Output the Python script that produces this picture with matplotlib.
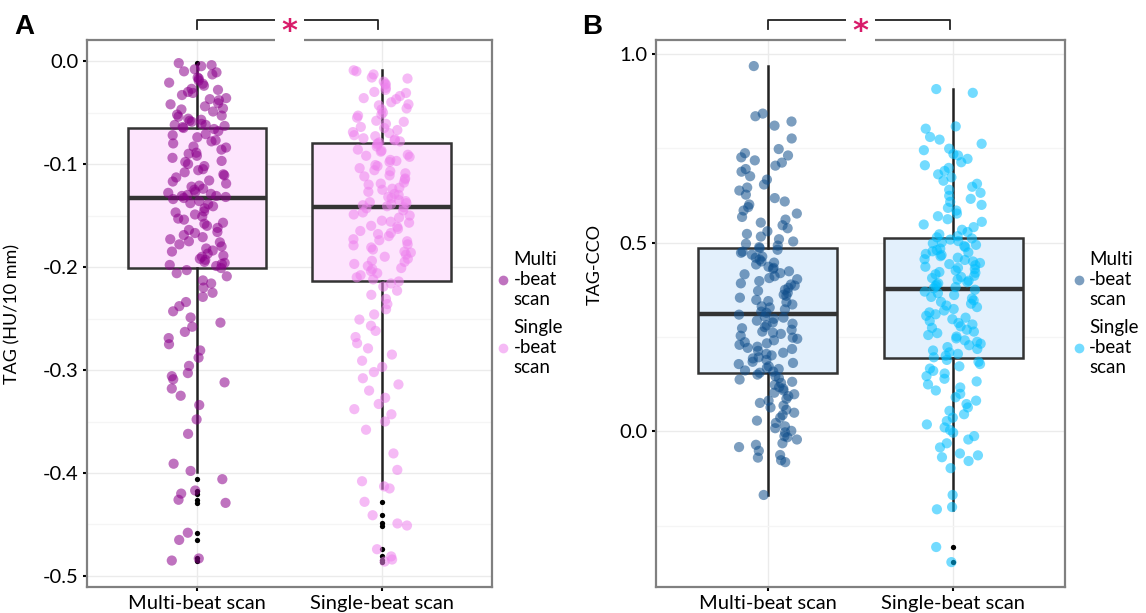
import matplotlib
matplotlib.use("Agg")
import matplotlib.pyplot as plt
import matplotlib.transforms as mtransforms
from matplotlib.patches import Rectangle
from matplotlib.lines import Line2D
import numpy as np

plt.rcParams['font.family'] = ['Lato', 'DejaVu Sans']
plt.rcParams['axes.unicode_minus'] = False

categories = ["Multi-beat scan", "Single-beat scan"]
legend_labels = ["Multi\n-beat\nscan", "Single\n-beat\nscan"]

# panel A: TAG (HU/10 mm), values
tag_multi = [
    -0.002, -0.004, -0.005, -0.008, -0.010, -0.011, -0.013, -0.016, -0.017, -0.019,
    -0.021, -0.022, -0.024, -0.027, -0.028, -0.030, -0.031, -0.033, -0.036, -0.037,
    -0.038, -0.041, -0.042, -0.044, -0.046, -0.047, -0.049, -0.052, -0.053, -0.054,
    -0.056, -0.057, -0.058, -0.059, -0.061, -0.062, -0.062, -0.063, -0.064, -0.065,
    -0.066, -0.068, -0.071, -0.072, -0.074, -0.077, -0.078, -0.080, -0.083, -0.084,
    -0.086, -0.089, -0.090, -0.092, -0.094, -0.097, -0.098, -0.100, -0.102, -0.105,
    -0.106, -0.108, -0.110, -0.111, -0.113, -0.116, -0.117, -0.119, -0.121, -0.122,
    -0.124, -0.125, -0.127, -0.128, -0.129, -0.130, -0.131, -0.131, -0.132, -0.133,
    -0.134, -0.136, -0.138, -0.139, -0.141, -0.143, -0.146, -0.147, -0.149, -0.151,
    -0.153, -0.154, -0.157, -0.158, -0.160, -0.162, -0.164, -0.166, -0.167, -0.169,
    -0.171, -0.173, -0.175, -0.176, -0.178, -0.180, -0.182, -0.184, -0.185, -0.187,
    -0.189, -0.190, -0.192, -0.193, -0.195, -0.196, -0.197, -0.198, -0.199, -0.201,
    -0.203, -0.206, -0.209, -0.213, -0.216, -0.220, -0.225, -0.229, -0.234, -0.238,
    -0.243, -0.249, -0.254, -0.258, -0.263, -0.269, -0.275, -0.281, -0.288, -0.296,
    -0.303, -0.306, -0.309, -0.312, -0.318, -0.325, -0.334, -0.348, -0.362, -0.391,
    -0.398, -0.406, -0.417, -0.420, -0.426, -0.429, -0.458, -0.465, -0.483, -0.485,
]
tag_single = [
    -0.009, -0.010, -0.013, -0.016, -0.017, -0.020, -0.022, -0.023, -0.026, -0.028,
    -0.030, -0.031, -0.034, -0.036, -0.037, -0.040, -0.042, -0.043, -0.046, -0.047,
    -0.050, -0.052, -0.053, -0.055, -0.058, -0.059, -0.061, -0.064, -0.065, -0.067,
    -0.069, -0.070, -0.072, -0.073, -0.075, -0.076, -0.077, -0.078, -0.079, -0.080,
    -0.081, -0.083, -0.086, -0.087, -0.088, -0.091, -0.092, -0.093, -0.096, -0.097,
    -0.098, -0.101, -0.102, -0.104, -0.106, -0.107, -0.109, -0.111, -0.112, -0.114,
    -0.115, -0.118, -0.119, -0.120, -0.123, -0.124, -0.125, -0.127, -0.129, -0.130,
    -0.132, -0.133, -0.135, -0.136, -0.137, -0.138, -0.139, -0.140, -0.141, -0.142,
    -0.143, -0.145, -0.147, -0.149, -0.150, -0.152, -0.155, -0.156, -0.157, -0.160,
    -0.161, -0.163, -0.165, -0.167, -0.168, -0.170, -0.173, -0.174, -0.175, -0.178,
    -0.179, -0.181, -0.183, -0.185, -0.186, -0.188, -0.190, -0.192, -0.194, -0.195,
    -0.197, -0.199, -0.201, -0.202, -0.204, -0.206, -0.208, -0.210, -0.212, -0.214,
    -0.216, -0.219, -0.223, -0.227, -0.231, -0.236, -0.241, -0.246, -0.251, -0.257,
    -0.262, -0.268, -0.274, -0.279, -0.285, -0.291, -0.297, -0.302, -0.308, -0.314,
    -0.320, -0.327, -0.333, -0.338, -0.343, -0.350, -0.358, -0.381, -0.397, -0.408,
    -0.413, -0.415, -0.428, -0.441, -0.449, -0.451, -0.474, -0.481, -0.484, -0.486,
]
# box statistics: q1, median, q3, lower whisker, upper whisker
tag_box = {
    "Multi-beat scan": (-0.201, -0.133, -0.065, -0.399, -0.004),
    "Single-beat scan": (-0.214, -0.142, -0.080, -0.415, -0.009),
}

# panel B: TAG-CCO
cco_multi = [
    0.968, 0.842, 0.835, 0.821, 0.810, 0.776, 0.748, 0.737, 0.731, 0.726,
    0.718, 0.712, 0.704, 0.695, 0.688, 0.676, 0.667, 0.654, 0.646, 0.638,
    0.627, 0.618, 0.609, 0.601, 0.594, 0.585, 0.577, 0.568, 0.561, 0.553,
    0.546, 0.538, 0.530, 0.523, 0.516, 0.509, 0.503, 0.497, 0.492, 0.488,
    0.485, 0.481, 0.476, 0.473, 0.468, 0.463, 0.460, 0.455, 0.450, 0.447,
    0.442, 0.436, 0.433, 0.430, 0.424, 0.419, 0.416, 0.411, 0.406, 0.403,
    0.398, 0.392, 0.389, 0.386, 0.380, 0.375, 0.372, 0.367, 0.362, 0.359,
    0.354, 0.348, 0.345, 0.342, 0.336, 0.331, 0.328, 0.323, 0.317, 0.314,
    0.309, 0.304, 0.301, 0.298, 0.293, 0.288, 0.285, 0.281, 0.276, 0.273,
    0.269, 0.264, 0.261, 0.258, 0.253, 0.248, 0.245, 0.241, 0.236, 0.233,
    0.229, 0.224, 0.221, 0.218, 0.213, 0.208, 0.205, 0.201, 0.196, 0.193,
    0.189, 0.184, 0.181, 0.178, 0.172, 0.168, 0.165, 0.161, 0.158, 0.155,
    0.150, 0.146, 0.141, 0.137, 0.131, 0.128, 0.123, 0.117, 0.113, 0.108,
    0.102, 0.098, 0.093, 0.086, 0.081, 0.075, 0.068, 0.063, 0.057, 0.049,
    0.043, 0.036, 0.028, 0.022, 0.013, 0.008, 0.001, -0.003, -0.013, -0.016,
    -0.022, -0.032, -0.036, -0.042, -0.052, -0.063, -0.070, -0.077, -0.082, -0.169,
]
cco_single = [
    0.907, 0.897, 0.808, 0.802, 0.780, 0.773, 0.762, 0.749, 0.745, 0.735,
    0.731, 0.722, 0.713, 0.705, 0.698, 0.690, 0.681, 0.673, 0.664, 0.656,
    0.648, 0.640, 0.632, 0.624, 0.616, 0.608, 0.600, 0.592, 0.585, 0.577,
    0.570, 0.562, 0.555, 0.548, 0.541, 0.534, 0.528, 0.522, 0.517, 0.514,
    0.511, 0.508, 0.504, 0.501, 0.498, 0.494, 0.491, 0.488, 0.484, 0.480,
    0.477, 0.474, 0.470, 0.467, 0.464, 0.460, 0.456, 0.454, 0.450, 0.446,
    0.443, 0.440, 0.436, 0.433, 0.430, 0.426, 0.422, 0.420, 0.416, 0.412,
    0.409, 0.406, 0.402, 0.399, 0.395, 0.392, 0.389, 0.385, 0.382, 0.379,
    0.375, 0.370, 0.366, 0.361, 0.356, 0.352, 0.347, 0.343, 0.338, 0.333,
    0.329, 0.324, 0.320, 0.315, 0.310, 0.306, 0.301, 0.297, 0.292, 0.287,
    0.283, 0.278, 0.274, 0.269, 0.264, 0.260, 0.255, 0.251, 0.246, 0.241,
    0.237, 0.232, 0.228, 0.223, 0.218, 0.214, 0.209, 0.205, 0.200, 0.196,
    0.189, 0.184, 0.178, 0.172, 0.166, 0.160, 0.153, 0.146, 0.139, 0.132,
    0.124, 0.116, 0.108, 0.099, 0.090, 0.081, 0.072, 0.063, 0.054, 0.045,
    0.036, 0.027, 0.018, 0.010, 0.003, -0.004, -0.013, -0.022, -0.032, -0.043,
    -0.059, -0.064, -0.069, -0.079, -0.098, -0.169, -0.201, -0.207, -0.307, -0.347,
]
cco_box = {
    "Multi-beat scan": (0.153, 0.312, 0.487, -0.169, 0.968),
    "Single-beat scan": (0.193, 0.378, 0.513, -0.209, 0.907),
}

tag_ticks = [0.0, -0.1, -0.2, -0.3, -0.4, -0.5]
tag_tick_labels = ["0.0", "-0.1", "-0.2", "-0.3", "-0.4", "-0.5"]
tag_minor = [-0.05, -0.15, -0.25, -0.35, -0.45]
cco_ticks = [1.0, 0.5, 0.0]
cco_tick_labels = ["1.0", "0.5", "0.0"]
cco_minor = [0.75, 0.25, -0.25]


def jitter(n, width, seed):
    # scrambled but repeatable horizontal offsets, like geom_jitter
    h = (np.sin(np.arange(n) * 12.9898 + seed * 78.233) * 43758.5453) % 1.0
    return (h - 0.5) * 2 * width


def panel(ax, values, boxes, colors, alphas, fill, ylim, ticks, tick_labels, minor,
          ylabel, ylab_pos, leg_x, seed):
    stats = []
    for cat in categories:
        q1, med, q3, lo, hi = boxes[cat]
        v = np.array(values[cat])
        stats.append(dict(q1=q1, med=med, q3=q3, whislo=lo, whishi=hi,
                          fliers=v[(v < lo) | (v > hi)]))
    ax.bxp(stats, positions=[0, 1], widths=0.75, patch_artist=True,
           showcaps=False, zorder=2,
           boxprops=dict(facecolor=fill, edgecolor="#333333", linewidth=1.8),
           medianprops=dict(color="#333333", linewidth=3.2),
           whiskerprops=dict(color="#222222", linewidth=1.8),
           flierprops=dict(marker="o", markersize=3.8, markerfacecolor="black",
                           markeredgecolor="none"))
    for i, cat in enumerate(categories):
        v = np.array(values[cat])
        ax.scatter(i + jitter(len(v), 0.16, seed + i), v, s=54, color=colors[i],
                   alpha=alphas[i], edgecolors="none", zorder=3)

    ax.set_xlim(-0.6, 1.6)
    ax.set_ylim(*ylim)
    ax.set_xticks([0, 1])
    ax.set_xticklabels(categories, fontsize=14.5)
    ax.set_yticks(ticks)
    ax.set_yticklabels(tick_labels, fontsize=14.5)
    ax.set_yticks(minor, minor=True)
    ax.tick_params(axis="y", which="minor", length=0)
    ax.tick_params(axis="both", which="major", length=3, width=1.5,
                   color="black", pad=3)
    ax.grid(True, which="major", color="#ebebeb", linewidth=1.0, zorder=0)
    ax.grid(True, which="minor", axis="y", color="#f5f5f5", linewidth=1.0, zorder=0)
    ax.set_axisbelow(True)
    for sp in ax.spines.values():
        sp.set_color("#808080")
        sp.set_linewidth(1.6)
    ax.set_ylabel(ylabel, fontsize=13)
    ax.yaxis.set_label_coords(*ylab_pos)

    # significance bracket over the two groups
    trans = mtransforms.blended_transform_factory(ax.transData, ax.transAxes)
    ax.plot([0, 0, 0.98, 0.98], [1.020, 1.037, 1.037, 1.020], color="#222222",
            linewidth=1.3, transform=trans, clip_on=False, zorder=4)
    ax.add_patch(Rectangle((0.42, 0.99), 0.16, 0.06, transform=trans,
                           facecolor="white", edgecolor="none", clip_on=False,
                           zorder=5))
    ax.text(0.5, 1.0, "*", transform=trans, ha="center", va="baseline",
            fontsize=22, weight="bold", color="#d81b6a", family="DejaVu Sans",
            zorder=6, clip_on=False)

    handles = [Line2D([], [], linestyle="none", marker="o", markersize=7,
                      markerfacecolor=colors[i], markeredgecolor="none",
                      alpha=alphas[i]) for i in range(2)]
    ax.legend(handles, legend_labels, loc="center left",
              bbox_to_anchor=(leg_x, 0.5), frameon=False, fontsize=13.5,
              handlelength=0.7, handletextpad=0.2, borderpad=0,
              borderaxespad=0, labelspacing=0.6)


fig = plt.figure(figsize=(11.46, 6.13), dpi=100)
axA = fig.add_axes([0.0759, 0.0424, 0.3534, 0.8923])
axB = fig.add_axes([0.5724, 0.0424, 0.3569, 0.8923])

panel(axA, {"Multi-beat scan": tag_multi, "Single-beat scan": tag_single}, tag_box,
      ["#8B008B", "#EE82EE"], [0.55, 0.55], "#fde5fd", (-0.5107, 0.0204),
      tag_ticks, tag_tick_labels, tag_minor, "TAG (HU/10 mm)", (-0.165, 0.5),
      1.012, 1)
panel(axB, {"Multi-beat scan": cco_multi, "Single-beat scan": cco_single}, cco_box,
      ["#104E8B", "#00BFFF"], [0.55, 0.55], "#e3f0fc", (-0.413, 1.037),
      cco_ticks, cco_tick_labels, cco_minor, "TAG-CCO", (-0.13, 0.59),
      1.018, 3)

fig.text(24 / 1146, 1 - 27 / 613, "A", ha="center", va="center", fontsize=20,
         weight="bold", family="Liberation Sans")
fig.text(592 / 1146, 1 - 27 / 613, "B", ha="center", va="center", fontsize=20,
         weight="bold", family="Liberation Sans")

plt.savefig("out.png", dpi=100)
